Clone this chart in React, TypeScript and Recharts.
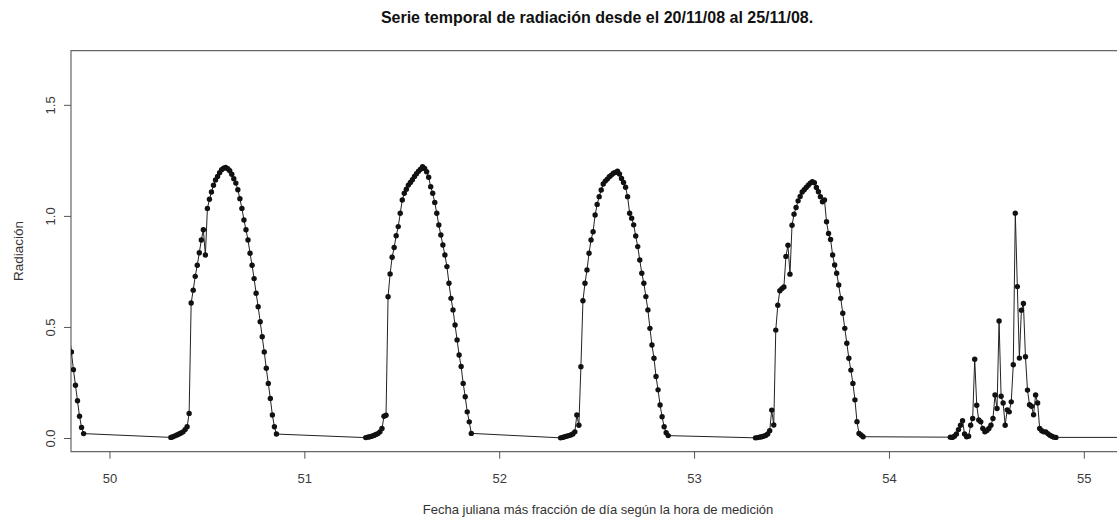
import React from 'react';
import { LineChart, Line, XAxis, YAxis, ReferenceArea } from 'recharts';

// Radiation readings every 15 minutes; each run starts at startHour (local clock)
const STEP_HOURS = 0.25;

// Evening of day 49, from 19:00
const day49Evening = [0.46, 0.39, 0.31, 0.24, 0.17, 0.1, 0.05, 0.022];

// Day 50, 07:30 - 20:30
const day50 = [
  0.005, 0.008, 0.012, 0.016, 0.02, 0.025, 0.03, 0.04, 0.053, 0.113,
  0.61, 0.668, 0.73, 0.78, 0.836, 0.894, 0.94, 0.826, 1.036, 1.077,
  1.11, 1.14, 1.164, 1.18, 1.197, 1.21, 1.217, 1.22, 1.215, 1.206,
  1.19, 1.17, 1.15, 1.12, 1.08, 1.036, 0.984, 0.94, 0.894, 0.834,
  0.78, 0.72, 0.654, 0.593, 0.526, 0.458, 0.39, 0.316, 0.248, 0.18,
  0.106, 0.053, 0.02,
];

// Day 51, 07:30 - 20:30
const day51 = [
  0.004, 0.006, 0.008, 0.01, 0.014, 0.018, 0.022, 0.03, 0.045, 0.1,
  0.105, 0.638, 0.741, 0.816, 0.86, 0.913, 0.954, 1.014, 1.074, 1.104,
  1.122, 1.141, 1.153, 1.165, 1.18, 1.192, 1.203, 1.212, 1.224, 1.216,
  1.201, 1.176, 1.134, 1.104, 1.063, 1.014, 0.961, 0.916, 0.871, 0.826,
  0.774, 0.699, 0.631, 0.579, 0.511, 0.444, 0.376, 0.324, 0.248, 0.188,
  0.12, 0.075, 0.023,
];

// Day 52, 07:30 - 20:45
const day52 = [
  0.003, 0.005, 0.008, 0.01, 0.013, 0.016, 0.02, 0.03, 0.106, 0.06,
  0.323, 0.62, 0.699, 0.759, 0.834, 0.894, 0.931, 1.006, 1.054, 1.089,
  1.119, 1.146, 1.159, 1.168, 1.179, 1.186, 1.194, 1.198, 1.203, 1.191,
  1.171, 1.153, 1.131, 1.089, 1.014, 0.992, 0.962, 0.912, 0.864, 0.804,
  0.744, 0.699, 0.639, 0.579, 0.496, 0.421, 0.361, 0.279, 0.219, 0.151,
  0.098, 0.053, 0.026, 0.013,
];

// Day 53, 07:30 - 20:45
const day53 = [
  0.003, 0.004, 0.006, 0.008, 0.01, 0.014, 0.02, 0.035, 0.128, 0.061,
  0.488, 0.6, 0.665, 0.675, 0.682, 0.82, 0.87, 0.74, 0.96, 1.01,
  1.04, 1.07, 1.09, 1.11, 1.12, 1.13, 1.14, 1.15, 1.156, 1.152,
  1.13, 1.111, 1.089, 1.066, 1.074, 0.976, 0.923, 0.896, 0.826, 0.781,
  0.744, 0.691, 0.631, 0.564, 0.496, 0.429, 0.361, 0.308, 0.248, 0.174,
  0.076, 0.023, 0.016, 0.008,
];

// Day 54 (overcast), 07:30 - 20:30
const day54 = [
  0.006, 0.005, 0.01, 0.02, 0.04, 0.06, 0.08, 0.02, 0.008, 0.01,
  0.06, 0.09, 0.357, 0.15, 0.083, 0.075, 0.045, 0.03, 0.036, 0.045,
  0.06, 0.09, 0.196, 0.135, 0.529, 0.19, 0.16, 0.06, 0.129, 0.12,
  0.165, 0.332, 1.014, 0.684, 0.362, 0.578, 0.608, 0.368, 0.218, 0.152,
  0.145, 0.107, 0.196, 0.16, 0.045, 0.035, 0.03, 0.03, 0.022, 0.015,
  0.01, 0.006, 0.005,
];

// First reading of day 55
const day55Morning = [0.005];

const dayTicks = [50, 51, 52, 53, 54, 55];
const radiationTicks = [0, 0.5, 1, 1.5];

const runs = [
  { day: 49, startHour: 19, values: day49Evening },
  { day: 50, startHour: 7.5, values: day50 },
  { day: 51, startHour: 7.5, values: day51 },
  { day: 52, startHour: 7.5, values: day52 },
  { day: 53, startHour: 7.5, values: day53 },
  { day: 54, startHour: 7.5, values: day54 },
  { day: 55, startHour: 7.5, values: day55Morning },
];

const data = runs.flatMap((r) =>
  r.values.map((v, i) => ({
    t: r.day + (r.startHour + i * STEP_HOURS) / 24,
    rad: v,
  }))
);

const X_DOMAIN: [number, number] = [49.8, 55.2];
const Y_DOMAIN: [number, number] = [-0.0594, 1.746];

const FONT = '"Liberation Sans", Arial, Helvetica, sans-serif';

const XTick = (props: any) => {
  const { x, y, payload } = props;
  return (
    <text x={x} y={y + 24} textAnchor="middle" fontSize={13} fill="#3a3a3a" fontFamily={FONT}>
      {payload.value}
    </text>
  );
};

const YTick = (props: any) => {
  const { x, y, payload } = props;
  const bx = x - 9;
  return (
    <text
      x={bx}
      y={y}
      transform={`rotate(-90 ${bx} ${y})`}
      textAnchor="middle"
      fontSize={13}
      fill="#3a3a3a"
      fontFamily={FONT}
    >
      {Number(payload.value).toFixed(1)}
    </text>
  );
};

const PointDot = (props: any) => {
  const { cx, cy, payload, index } = props;
  if (payload.t < X_DOMAIN[0] - 0.005 || payload.t > X_DOMAIN[1]) return <g key={`d${index}`} />;
  return <circle key={`d${index}`} cx={cx} cy={cy} r={2.7} fill="#111" stroke="none" />;
};

export default function App() {
  return (
    <div
      style={{
        position: 'fixed',
        left: 0,
        top: 0,
        width: 1117,
        height: 519,
        overflow: 'hidden',
        background: '#fff',
      }}
    >
      <LineChart
        width={1140}
        height={519}
        data={data}
        margin={{ top: 50.7, right: 16.7, left: 31, bottom: 37.3 }}
      >
        <XAxis
          dataKey="t"
          type="number"
          domain={X_DOMAIN}
          allowDataOverflow
          ticks={dayTicks}
          height={30}
          axisLine={false}
          tickLine={{ stroke: '#555' }}
          tickSize={7}
          tickMargin={0}
          tick={<XTick />}
          interval={0}
        />
        <YAxis
          type="number"
          domain={Y_DOMAIN}
          allowDataOverflow
          ticks={radiationTicks}
          width={40}
          axisLine={false}
          tickLine={{ stroke: '#555' }}
          tickSize={7}
          tickMargin={0}
          tick={<YTick />}
          interval={0}
        />
        <ReferenceArea
          x1={X_DOMAIN[0]}
          x2={X_DOMAIN[1]}
          y1={Y_DOMAIN[0]}
          y2={Y_DOMAIN[1]}
          fill="none"
          fillOpacity={0}
          stroke="#666"
          strokeWidth={1.2}
          ifOverflow="visible"
        />
        <Line
          type="linear"
          dataKey="rad"
          stroke="#222"
          strokeWidth={1}
          dot={<PointDot />}
          activeDot={false}
          isAnimationActive={false}
        />
      </LineChart>
      <svg
        width={1117}
        height={519}
        style={{ position: 'absolute', left: 0, top: 0, pointerEvents: 'none' }}
      >
        <text x={597} y={22.5} textAnchor="middle" fontSize={16} fontWeight="bold" fill="#111" fontFamily={FONT}>
          Serie temporal de radiación desde el 20/11/08 al 25/11/08.
        </text>
        <text x={598} y={513.5} textAnchor="middle" fontSize={13} fill="#333" fontFamily={FONT}>
          Fecha juliana más fracción de día según la hora de medición
        </text>
        <text
          x={23}
          y={251}
          transform="rotate(-90 23 251)"
          textAnchor="middle"
          fontSize={13.5}
          fill="#333"
          fontFamily={FONT}
        >
          Radiación
        </text>
      </svg>
    </div>
  );
}
